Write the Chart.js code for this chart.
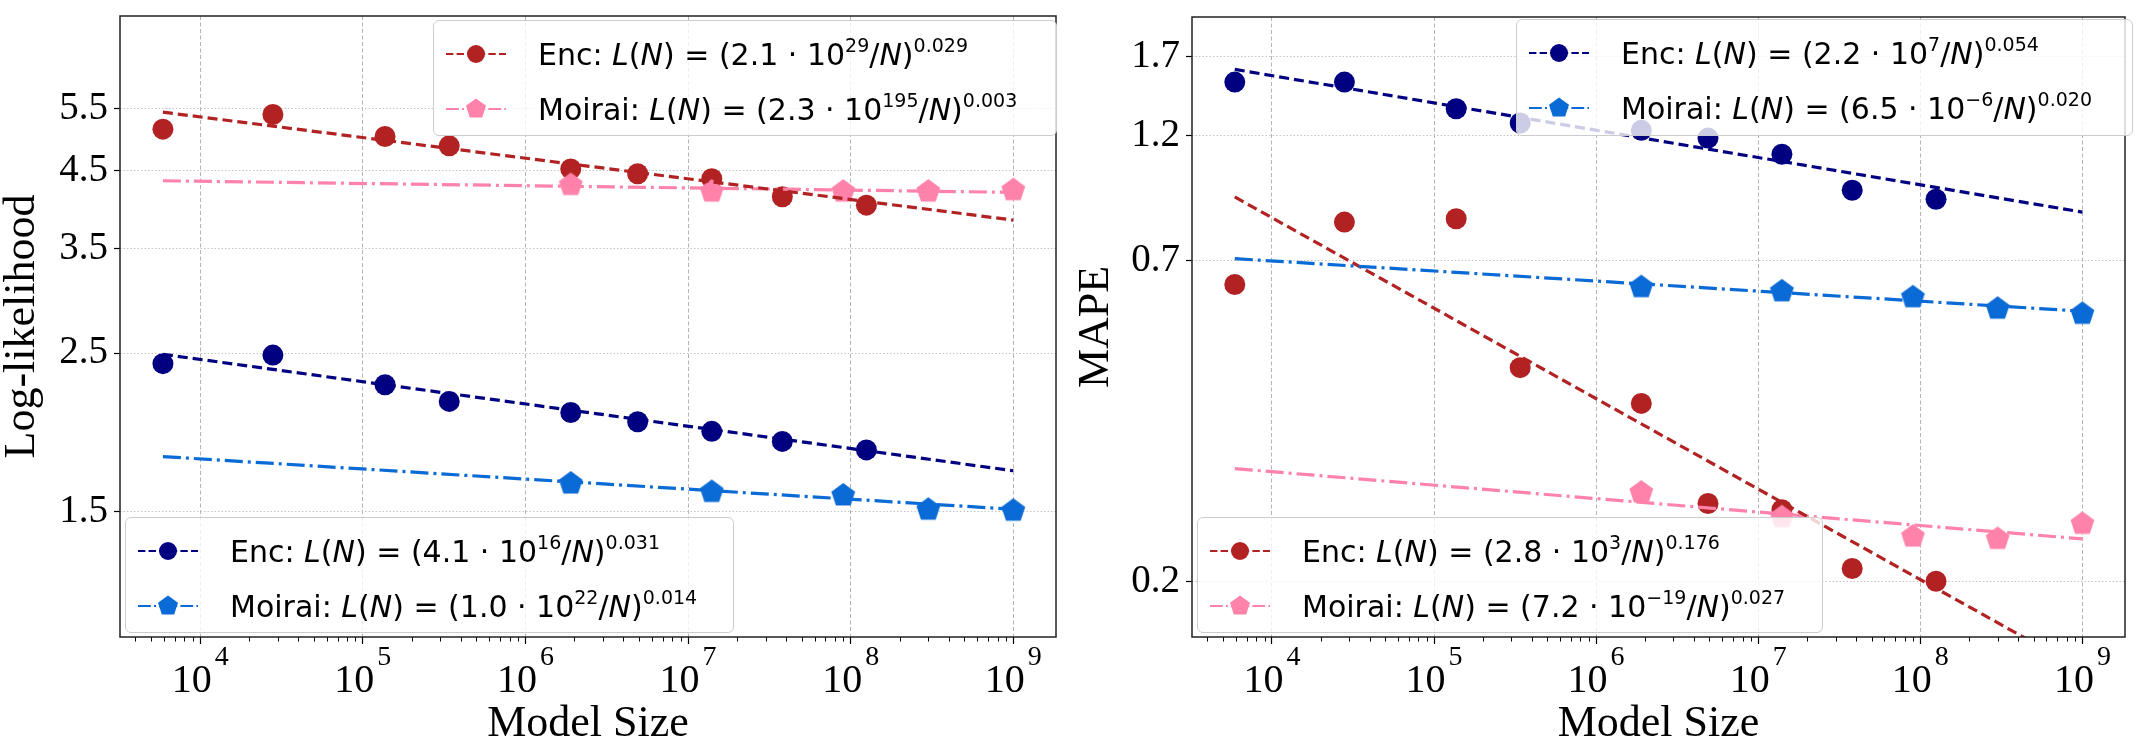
<!DOCTYPE html>
<html>
<head>
<meta charset="utf-8">
<script src="https://cdn.jsdelivr.net/npm/chart.js@4.4.1/dist/chart.umd.min.js"></script>
<style>
  body { margin: 0; background: #fff; }
  #wrap { position: relative; width: 2138px; height: 750px; overflow: hidden; background: #fff; }
  canvas { position: absolute; top: 0; }
  .legend {
    position: absolute; box-sizing: border-box;
    border: 1px solid #cccccc; border-radius: 6px;
    background: rgba(255, 255, 255, 0.8);
    font-family: "DejaVu Sans"; font-size: 30px; color: #000;
  }
  .legend svg { position: absolute; left: 11px; }
  .legend .txt { position: absolute; left: 104px; line-height: 35px; white-space: nowrap; }
  .legend sup { font-size: 19px; vertical-align: baseline; position: relative; top: -13px; line-height: 0; }
</style>
</head>
<body>
<div id="wrap">
  <canvas id="left" width="1069" height="750" style="left:0"></canvas>
  <canvas id="right" width="1068" height="750" style="left:1070px"></canvas>
</div>
<script>
// model sizes (x axis, log)
const encSizes = [5.9e3, 2.8e4, 1.37e5, 3.4e5, 1.9e6, 4.9e6, 1.4e7, 3.8e7, 1.25e8];
const moiraiSizes = [1.9e6, 1.4e7, 9.0e7, 3.0e8, 1.0e9];
const fitSizes = [5.9e3, 1.0e9];
const sizeTicks = [1e4, 1e5, 1e6, 1e7, 1e8, 1e9];

// left panel: log-likelihood
const llTicks = [1.5, 2.5, 3.5, 4.5, 5.5];
const llTickLabels = ['1.5', '2.5', '3.5', '4.5', '5.5'];
const llEncRed = [5.15, 5.40, 5.03, 4.88, 4.53, 4.46, 4.39, 4.14, 4.03];
const llEncRedFit = [5.44, 3.84];
const llMoiraiPink = [4.30, 4.21, 4.21, 4.21, 4.23];
const llMoiraiPinkFit = [4.36, 4.20];
const llEncNavy = [2.416, 2.484, 2.257, 2.139, 2.064, 2.003, 1.942, 1.880, 1.829];
const llEncNavyFit = [2.49, 1.71];
const llMoiraiBlue = [1.641, 1.597, 1.579, 1.508, 1.503];
const llMoiraiBlueFit = [1.79, 1.51];

// right panel: MAPE
const mapeTicks = [0.15, 0.65, 1.15, 1.65];
const mapeTickLabels = ['0.2', '0.7', '1.2', '1.7'];
const mapeEncNavy = [1.467, 1.467, 1.299, 1.217, 1.177, 1.136, 1.055, 0.895, 0.859];
const mapeEncNavyFit = [1.555, 0.81];
const mapeMoiraiBlue = [0.575, 0.564, 0.549, 0.521, 0.509];
const mapeMoiraiBlueFit = [0.655, 0.515];
const mapeEncRed = [0.582, 0.774, 0.786, 0.398, 0.338, 0.214, 0.208, 0.159, 0.150];
const mapeEncRedFit = [0.868, 0.10];
const mapeMoiraiPink = [0.225, 0.201, 0.184, 0.182, 0.195];
const mapeMoiraiPinkFit = [0.251, 0.182];

const RED = '#b22222', NAVY = '#000080', PINK = '#ff82aa', BLUE = '#0a6ad6';
const SERIF = '"Liberation Serif", "Times New Roman", serif';

function pts(xs, ys) {
  return xs.map((x, i) => ({ x: x, y: ys[i] }));
}

function pentagonImage(color, r) {
  const c = document.createElement('canvas');
  const s = Math.ceil(r * 2 + 2);
  c.width = s; c.height = s;
  const g = c.getContext('2d');
  g.fillStyle = color;
  g.beginPath();
  for (let k = 0; k < 5; k++) {
    const a = -Math.PI / 2 + k * 2 * Math.PI / 5;
    const px = s / 2 + r * Math.cos(a), py = s / 2 + r * Math.sin(a);
    if (k === 0) g.moveTo(px, py); else g.lineTo(px, py);
  }
  g.closePath();
  g.fill();
  return c;
}

function fitLine(color, style, xs, ys) {
  return {
    data: pts(xs, ys), showLine: true, borderColor: color, borderWidth: 3.2,
    borderDash: style === 'dash' ? [10, 5] : [18, 5, 3, 5],
    pointRadius: 0, fill: false
  };
}
function circles(color, xs, ys) {
  return { data: pts(xs, ys), pointStyle: 'circle', pointRadius: 10.5, backgroundColor: color, borderColor: color, borderWidth: 0 };
}
function pentagons(color, xs, ys) {
  return { data: pts(xs, ys), pointStyle: pentagonImage(color, 12.5), pointRadius: 12 };
}

// minor x ticks, "10^k" labels and the box around the plot
const axisDecor = {
  id: 'axisDecor',
  afterDraw(chart) {
    const { ctx, chartArea: a } = chart;
    const x = chart.scales.x;
    ctx.save();
    ctx.strokeStyle = '#000';
    ctx.lineWidth = 1;
    for (let k = 3; k <= 9; k++) {
      for (let m = 2; m <= 9; m++) {
        const v = m * Math.pow(10, k);
        if (v < x.min || v > x.max) continue;
        const px = Math.round(x.getPixelForValue(v)) + 0.5;
        ctx.beginPath();
        ctx.moveTo(px, a.bottom);
        ctx.lineTo(px, a.bottom + 4.5);
        ctx.stroke();
      }
    }
    ctx.fillStyle = '#000';
    ctx.textBaseline = 'alphabetic';
    ctx.textAlign = 'left';
    sizeTicks.forEach(v => {
      const exp = String(Math.round(Math.log10(v)));
      const px = x.getPixelForValue(v);
      ctx.font = '40px ' + SERIF;
      const w1 = ctx.measureText('10').width;
      ctx.font = '28px ' + SERIF;
      const w2 = ctx.measureText(exp).width;
      const left = px - (w1 + w2 + 3) / 2;
      ctx.font = '40px ' + SERIF;
      ctx.fillText('10', left, a.bottom + 55);
      ctx.font = '28px ' + SERIF;
      ctx.fillText(exp, left + w1 + 3, a.bottom + 28);
    });
    ctx.strokeStyle = '#222';
    ctx.lineWidth = 1.5;
    ctx.strokeRect(a.left, a.top, a.right - a.left, a.bottom - a.top);
    ctx.restore();
  }
};

function makePanel(id, o) {
  return new Chart(document.getElementById(id), {
    type: 'scatter',
    data: { datasets: o.datasets },
    options: {
      responsive: false,
      animation: false,
      events: [],
      layout: { padding: { top: o.top, right: o.right, left: 0, bottom: 0 } },
      plugins: { legend: { display: false }, tooltip: { enabled: false } },
      scales: {
        x: {
          type: 'logarithmic', min: 3213, max: 1.831e9,
          afterBuildTicks: s => { s.ticks = sizeTicks.map(v => ({ value: v })); },
          afterFit: s => { s.height = 113; s.paddingLeft = 0; s.paddingRight = 0; },
          ticks: { display: false },
          grid: { color: '#b4b4b4', lineWidth: 1, tickColor: '#000', tickLength: 7, tickWidth: 1.2 },
          border: { display: false, dash: [4, 2.5] },
          title: { display: true, text: 'Model Size', color: '#000', font: { family: SERIF, size: 44, lineHeight: 1 }, padding: { top: 0, bottom: 4 } }
        },
        y: {
          type: 'logarithmic', min: o.yMin, max: o.yMax,
          afterBuildTicks: s => { s.ticks = o.yTicks.map(v => ({ value: v })); },
          afterFit: s => { s.width = o.yWidth; s.paddingTop = 0; s.paddingBottom = 0; },
          ticks: { autoSkip: false, padding: 6, color: '#000', font: { family: SERIF, size: 39 }, callback: (v, i) => o.yLabels[i] },
          grid: { color: '#c4c4c4', lineWidth: 1, tickColor: '#000', tickLength: 6, tickWidth: 1.2 },
          border: { display: false, dash: [1.5, 2] },
          title: { display: true, text: o.yTitle, color: '#000', font: { family: SERIF, size: 44, lineHeight: 1 }, padding: { top: o.titlePad, bottom: 0 } }
        }
      }
    },
    plugins: [axisDecor]
  });
}

makePanel('left', {
  top: 16, right: 7, yWidth: 120, titlePad: 0,
  yMin: 1.0, yMax: 7.42, yTicks: llTicks, yLabels: llTickLabels, yTitle: 'Log-likelihood',
  datasets: [
    fitLine(RED, 'dash', fitSizes, llEncRedFit),
    fitLine(PINK, 'dashdot', fitSizes, llMoiraiPinkFit),
    fitLine(NAVY, 'dash', fitSizes, llEncNavyFit),
    fitLine(BLUE, 'dashdot', fitSizes, llMoiraiBlueFit),
    pentagons(PINK, moiraiSizes, llMoiraiPink),
    pentagons(BLUE, moiraiSizes, llMoiraiBlue),
    circles(RED, encSizes, llEncRed),
    circles(NAVY, encSizes, llEncNavy)
  ]
});

makePanel('right', {
  top: 17, right: 4, yWidth: 122, titlePad: 4,
  yMin: 0.1163, yMax: 1.975, yTicks: mapeTicks, yLabels: mapeTickLabels, yTitle: 'MAPE',
  datasets: [
    fitLine(NAVY, 'dash', fitSizes, mapeEncNavyFit),
    fitLine(BLUE, 'dashdot', fitSizes, mapeMoiraiBlueFit),
    fitLine(RED, 'dash', fitSizes, mapeEncRedFit),
    fitLine(PINK, 'dashdot', fitSizes, mapeMoiraiPinkFit),
    pentagons(BLUE, moiraiSizes, mapeMoiraiBlue),
    pentagons(PINK, moiraiSizes, mapeMoiraiPink),
    circles(NAVY, encSizes, mapeEncNavy),
    circles(RED, encSizes, mapeEncRed)
  ]
});

// matplotlib-style legends (html so the formulas keep their superscripts)
const rowCenters = [33, 88];
function marker(kind, color) {
  if (kind === 'circle') return '<circle cx="31" cy="13" r="9" fill="' + color + '"/>';
  const p = [];
  for (let k = 0; k < 5; k++) {
    const a = -Math.PI / 2 + k * 2 * Math.PI / 5;
    p.push((31 + 10.5 * Math.cos(a)).toFixed(2) + ',' + (13 + 10.5 * Math.sin(a)).toFixed(2));
  }
  return '<polygon points="' + p.join(' ') + '" fill="' + color + '"/>';
}
function addLegend(left, top, width, height, entries) {
  const el = document.createElement('div');
  el.className = 'legend';
  el.style.left = left + 'px';
  el.style.top = top + 'px';
  el.style.width = width + 'px';
  el.style.height = height + 'px';
  let html = '';
  entries.forEach((e, i) => {
    const c = rowCenters[i];
    const dash = e.kind === 'circle' ? '7.4 3.2' : '12.8 3.2 2 3.2';
    html += '<svg width="62" height="26" style="top:' + (c - 13) + 'px">' +
      '<line x1="1" y1="13" x2="61" y2="13" stroke="' + e.color + '" stroke-width="2.2" stroke-dasharray="' + dash + '"/>' +
      marker(e.kind, e.color) + '</svg>';
    html += '<div class="txt" style="top:' + (c - 17) + 'px">' + e.label + '</div>';
  });
  el.innerHTML = html;
  document.getElementById('wrap').appendChild(el);
}

addLegend(433, 20, 624, 116, [
  { kind: 'circle', color: RED, label: 'Enc: <i>L</i>(<i>N</i>) = (2.1 · 10<sup>29</sup>/<i>N</i>)<sup>0.029</sup>' },
  { kind: 'pentagon', color: PINK, label: 'Moirai: <i>L</i>(<i>N</i>) = (2.3 · 10<sup>195</sup>/<i>N</i>)<sup>0.003</sup>' }
]);
addLegend(125, 517, 609, 116, [
  { kind: 'circle', color: NAVY, label: 'Enc: <i>L</i>(<i>N</i>) = (4.1 · 10<sup>16</sup>/<i>N</i>)<sup>0.031</sup>' },
  { kind: 'pentagon', color: BLUE, label: 'Moirai: <i>L</i>(<i>N</i>) = (1.0 · 10<sup>22</sup>/<i>N</i>)<sup>0.014</sup>' }
]);
addLegend(1516, 19, 617, 117, [
  { kind: 'circle', color: NAVY, label: 'Enc: <i>L</i>(<i>N</i>) = (2.2 · 10<sup>7</sup>/<i>N</i>)<sup>0.054</sup>' },
  { kind: 'pentagon', color: BLUE, label: 'Moirai: <i>L</i>(<i>N</i>) = (6.5 · 10<sup>−6</sup>/<i>N</i>)<sup>0.020</sup>' }
]);
addLegend(1197, 517, 626, 116, [
  { kind: 'circle', color: RED, label: 'Enc: <i>L</i>(<i>N</i>) = (2.8 · 10<sup>3</sup>/<i>N</i>)<sup>0.176</sup>' },
  { kind: 'pentagon', color: PINK, label: 'Moirai: <i>L</i>(<i>N</i>) = (7.2 · 10<sup>−19</sup>/<i>N</i>)<sup>0.027</sup>' }
]);
</script>
</body>
</html>
